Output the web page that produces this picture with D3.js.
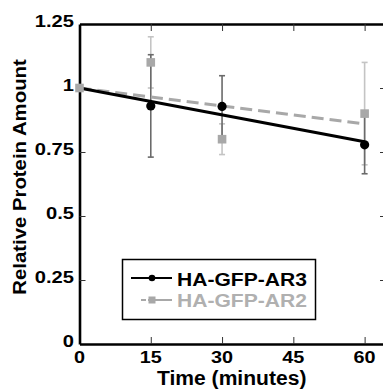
<!DOCTYPE html>
<html><head><meta charset="utf-8">
<script src="https://cdn.jsdelivr.net/npm/d3@7"></script>
<style>
html,body{margin:0;padding:0;background:#fff;}
svg{display:block;}
text{font-family:"Liberation Sans",Arial,Helvetica,sans-serif;font-weight:bold;}
</style></head>
<body><svg id="c" width="383" height="392"></svg>
<script>
// ---- data ----
const times = [0, 15, 30, 60];
const ar3Values = [1.0, 0.93, 0.928, 0.778];
const ar3Errors = [0, 0.20, 0.12, 0.113];
const ar2Values = [1.0, 1.10, 0.80, 0.90];
const ar2Errors = [0, 0.10, 0.06, 0.20];
const fitTimes = [0, 60];
const ar3Fit = [1.0, 0.79];
const ar2Fit = [1.0, 0.86];
const xTicks = [0, 15, 30, 45, 60];
const xTickLabels = ["0", "15", "30", "45", "60"];
const yTicks = [0, 0.25, 0.5, 0.75, 1, 1.25];
const yTickLabels = ["0", "0.25", "0.5", "0.75", "1", "1.25"];
const seriesNames = ["HA-GFP-AR3", "HA-GFP-AR2"];
const xTitle = "Time (minutes)";
const yTitle = "Relative Protein Amount";

// ---- layout ----
const svg = d3.select("#c");
const x = d3.scaleLinear().domain([0, 64.5]).range([79.5, 386]);
const y = d3.scaleLinear().domain([0, 1.25]).range([344, 24]);
const C3 = "#000", C2 = "#a8a8a8", E3 = "#6a6a6a", E2 = "#c4c4c4";

function stretch(sel, k) {
  sel.each(function () {
    const w = this.getComputedTextLength();
    d3.select(this).attr("textLength", w * k).attr("lengthAdjust", "spacingAndGlyphs");
  });
}

// axes
function styleAxis(g) {
  g.select(".domain").attr("stroke", "#000").attr("stroke-width", 2.6);
  g.selectAll(".tick line").attr("stroke", "#333").attr("stroke-width", 1);
  g.selectAll(".tick text").remove();
}
const innerY = yTicks.filter(v => v > 0 && v < 1.25);
const innerX = xTicks.filter(v => v > 0);
svg.append("g").attr("transform", `translate(${x(64.5)},0)`)
  .call(d3.axisRight(y).tickValues(innerY).tickSizeInner(-6).tickSizeOuter(0)).call(styleAxis);
svg.append("g").attr("transform", `translate(0,${y(1.25)})`)
  .call(d3.axisTop(x).tickValues(innerX).tickSizeInner(-7).tickSizeOuter(0)).call(styleAxis);
svg.append("g").attr("transform", `translate(0,${y(0)})`)
  .call(d3.axisBottom(x).tickValues(innerX).tickSizeInner(-7).tickSizeOuter(0)).call(styleAxis);
svg.append("g").attr("transform", `translate(${x(0)},0)`)
  .call(d3.axisLeft(y).tickValues(innerY).tickSizeInner(-6).tickSizeOuter(0)).call(styleAxis);

// tick labels
const yl = svg.append("g").selectAll("text").data(yTicks).join("text")
  .attr("x", x(0) - 5.5).attr("y", d => y(d) + 3.2)
  .attr("text-anchor", "end").attr("font-size", 16.5).attr("fill", "#000")
  .text((d, i) => yTickLabels[i]);
stretch(yl, 1.22);
const xl = svg.append("g").selectAll("text").data(xTicks).join("text")
  .attr("x", d => x(d)).attr("y", 363.3)
  .attr("text-anchor", "middle").attr("font-size", 16.5).attr("fill", "#000")
  .text((d, i) => xTickLabels[i]);
stretch(xl, 1.2);

// titles
const xt = svg.append("text").attr("x", 231.7).attr("y", 385).attr("text-anchor", "middle")
  .attr("font-size", 19.5).text(xTitle);
stretch(xt, 1.08);
const yt = svg.append("text").attr("transform", "translate(26,177) rotate(-90)")
  .attr("text-anchor", "middle").attr("font-size", 18.5).text(yTitle);
stretch(yt, 1.1);

// error bars
function errBars(vals, errs, color) {
  const g = svg.append("g").attr("stroke", color).attr("stroke-width", 1.6);
  const d = times.map((t, i) => ({t, v: vals[i], e: errs[i]})).filter(o => o.e > 0);
  g.selectAll("line.v").data(d).join("line")
    .attr("x1", o => x(o.t)).attr("x2", o => x(o.t))
    .attr("y1", o => y(o.v + o.e)).attr("y2", o => y(o.v - o.e));
  g.selectAll("line.t").data(d).join("line")
    .attr("x1", o => x(o.t) - 3).attr("x2", o => x(o.t) + 3)
    .attr("y1", o => y(o.v + o.e)).attr("y2", o => y(o.v + o.e));
  g.selectAll("line.b").data(d).join("line")
    .attr("x1", o => x(o.t) - 3).attr("x2", o => x(o.t) + 3)
    .attr("y1", o => y(o.v - o.e)).attr("y2", o => y(o.v - o.e));
}
errBars(ar2Values, ar2Errors, E2);
errBars(ar3Values, ar3Errors, E3);

// fit lines
const line = d3.line().x(d => x(d[0])).y(d => y(d[1]));
svg.append("path").datum(fitTimes.map((t, i) => [t, ar2Fit[i]])).attr("d", line)
  .attr("fill", "none").attr("stroke", C2).attr("stroke-width", 3).attr("stroke-dasharray", "12,6");
svg.append("path").datum(fitTimes.map((t, i) => [t, ar3Fit[i]])).attr("d", line)
  .attr("fill", "none").attr("stroke", C3).attr("stroke-width", 3);

// markers
svg.append("g").selectAll("rect").data(times).join("rect")
  .attr("x", (t) => x(t) - 4.3).attr("y", (t, i) => y(ar2Values[i]) - 4.3)
  .attr("width", 8.6).attr("height", 8.6).attr("fill", C2);
svg.append("g").selectAll("circle").data(times.slice(1)).join("circle")
  .attr("cx", t => x(t)).attr("cy", (t, i) => y(ar3Values[i + 1])).attr("r", 4.6).attr("fill", C3);

// legend
const lg = svg.append("g");
lg.append("rect").attr("x", 122.5).attr("y", 259.5).attr("width", 193).attr("height", 60)
  .attr("fill", "#fff").attr("stroke", "#000").attr("stroke-width", 1.5);
lg.append("line").attr("x1", 131).attr("x2", 172).attr("y1", 278).attr("y2", 278)
  .attr("stroke", C3).attr("stroke-width", 2);
lg.append("circle").attr("cx", 152).attr("cy", 278).attr("r", 3.3).attr("fill", C3);
lg.append("line").attr("x1", 131).attr("x2", 172).attr("y1", 300).attr("y2", 300)
  .attr("stroke", C2).attr("stroke-width", 2).attr("stroke-dasharray", "0,10,5,2,30");
lg.append("rect").attr("x", 148.5).attr("y", 296.5).attr("width", 7).attr("height", 7).attr("fill", C2);
const lt = lg.selectAll("text").data(seriesNames).join("text")
  .attr("x", 177).attr("y", (d, i) => 285.7 + i * 21)
  .attr("font-size", 18).attr("fill", (d, i) => i === 0 ? "#000" : "#b0b0b0").text(d => d);
stretch(lt, 1.17);
</script></body></html>
